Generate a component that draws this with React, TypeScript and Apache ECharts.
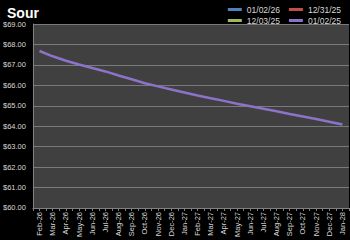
import React, { useEffect, useRef } from "react";
import * as echarts from "echarts";

const months = [
  "Feb-26", "Mar-26", "Apr-26", "May-26", "Jun-26", "Jul-26", "Aug-26", "Sep-26",
  "Oct-26", "Nov-26", "Dec-26", "Jan-27", "Feb-27", "Mar-27", "Apr-27", "May-27",
  "Jun-27", "Jul-27", "Aug-27", "Sep-27", "Oct-27", "Nov-27", "Dec-27", "Jan-28",
];

const seriesNames = ["01/02/26", "12/31/25", "12/03/25", "01/02/25"];
const seriesColors = ["#4f81bd", "#c0504d", "#9bbb59", "#8c72c8"];

const s0102_26: number[] = [];
const s1231_25: number[] = [];
const s1203_25: number[] = [];
const s0102_25 = [
  67.68, 67.42, 67.2, 67.02, 66.85, 66.68, 66.48, 66.3, 66.1, 65.95, 65.8, 65.65,
  65.5, 65.37, 65.24, 65.1, 64.98, 64.85, 64.73, 64.6, 64.48, 64.35, 64.22, 64.08,
];

const yMin = 60;
const yMax = 69;
const yStep = 1;

const FONT = "'Liberation Sans', Arial, sans-serif";

export default function App() {
  const ref = useRef<HTMLDivElement>(null);

  useEffect(() => {
    if (!ref.current) return;
    const chart = echarts.init(ref.current, undefined, { renderer: "svg" });
    const allData = [s0102_26, s1231_25, s1203_25, s0102_25];
    const halfTicks = months.flatMap((m) => [m + "a", m + "b"]);

    const legendBase = {
      right: 4,
      icon: "rect",
      itemWidth: 14,
      itemHeight: 3,
      itemGap: 9,
      textStyle: { color: "#d9d9d9", fontSize: 8.5, fontFamily: FONT },
    };

    chart.setOption({
      animation: false,
      backgroundColor: "#000000",
      title: {
        text: "Sour",
        left: 2,
        top: 1,
        textStyle: { color: "#ffffff", fontSize: 14, fontWeight: "bold", fontFamily: FONT },
      },
      legend: [
        { ...legendBase, data: [seriesNames[0], seriesNames[1]], top: 0 },
        { ...legendBase, data: [seriesNames[2], seriesNames[3]], top: 11 },
      ],
      grid: {
        left: 31,
        right: 1,
        top: 24,
        bottom: 31,
        show: true,
        backgroundColor: "#404040",
        borderWidth: 0,
      },
      xAxis: [
        {
          type: "category",
          data: months,
          boundaryGap: true,
          axisLine: { show: true, lineStyle: { color: "#808080", width: 1 } },
          axisTick: { show: false },
          axisLabel: {
            rotate: 90,
            interval: 0,
            margin: 4,
            color: "#d9d9d9",
            fontSize: 7.5,
            fontFamily: FONT,
          },
          splitLine: { show: false },
        },
        {
          type: "category",
          data: halfTicks,
          position: "bottom",
          boundaryGap: true,
          axisLine: { show: false },
          axisTick: { show: true, interval: 0, length: 3, lineStyle: { color: "#808080" } },
          axisLabel: { show: false },
          splitLine: { show: false },
        },
      ],
      yAxis: {
        type: "value",
        min: yMin,
        max: yMax,
        interval: yStep,
        axisLine: { show: true, lineStyle: { color: "#808080", width: 1 } },
        axisTick: { show: false },
        axisLabel: {
          margin: 7,
          color: "#d9d9d9",
          fontSize: 7.5,
          fontFamily: FONT,
          formatter: (v: number) => "$" + v.toFixed(2),
        },
        splitLine: { show: true, lineStyle: { color: "#7a7a7a", width: 1 } },
      },
      series: seriesNames.map((name, i) => ({
        name,
        type: "line",
        xAxisIndex: 0,
        data: allData[i],
        showSymbol: false,
        symbol: "none",
        smooth: false,
        color: seriesColors[i],
        lineStyle: { color: seriesColors[i], width: 2.5 },
        z: 2 + i,
      })),
    });

    return () => {
      chart.dispose();
    };
  }, []);

  return (
    <div
      ref={ref}
      style={{ position: "fixed", left: 0, top: 0, width: 350, height: 240, background: "#000" }}
    />
  );
}
